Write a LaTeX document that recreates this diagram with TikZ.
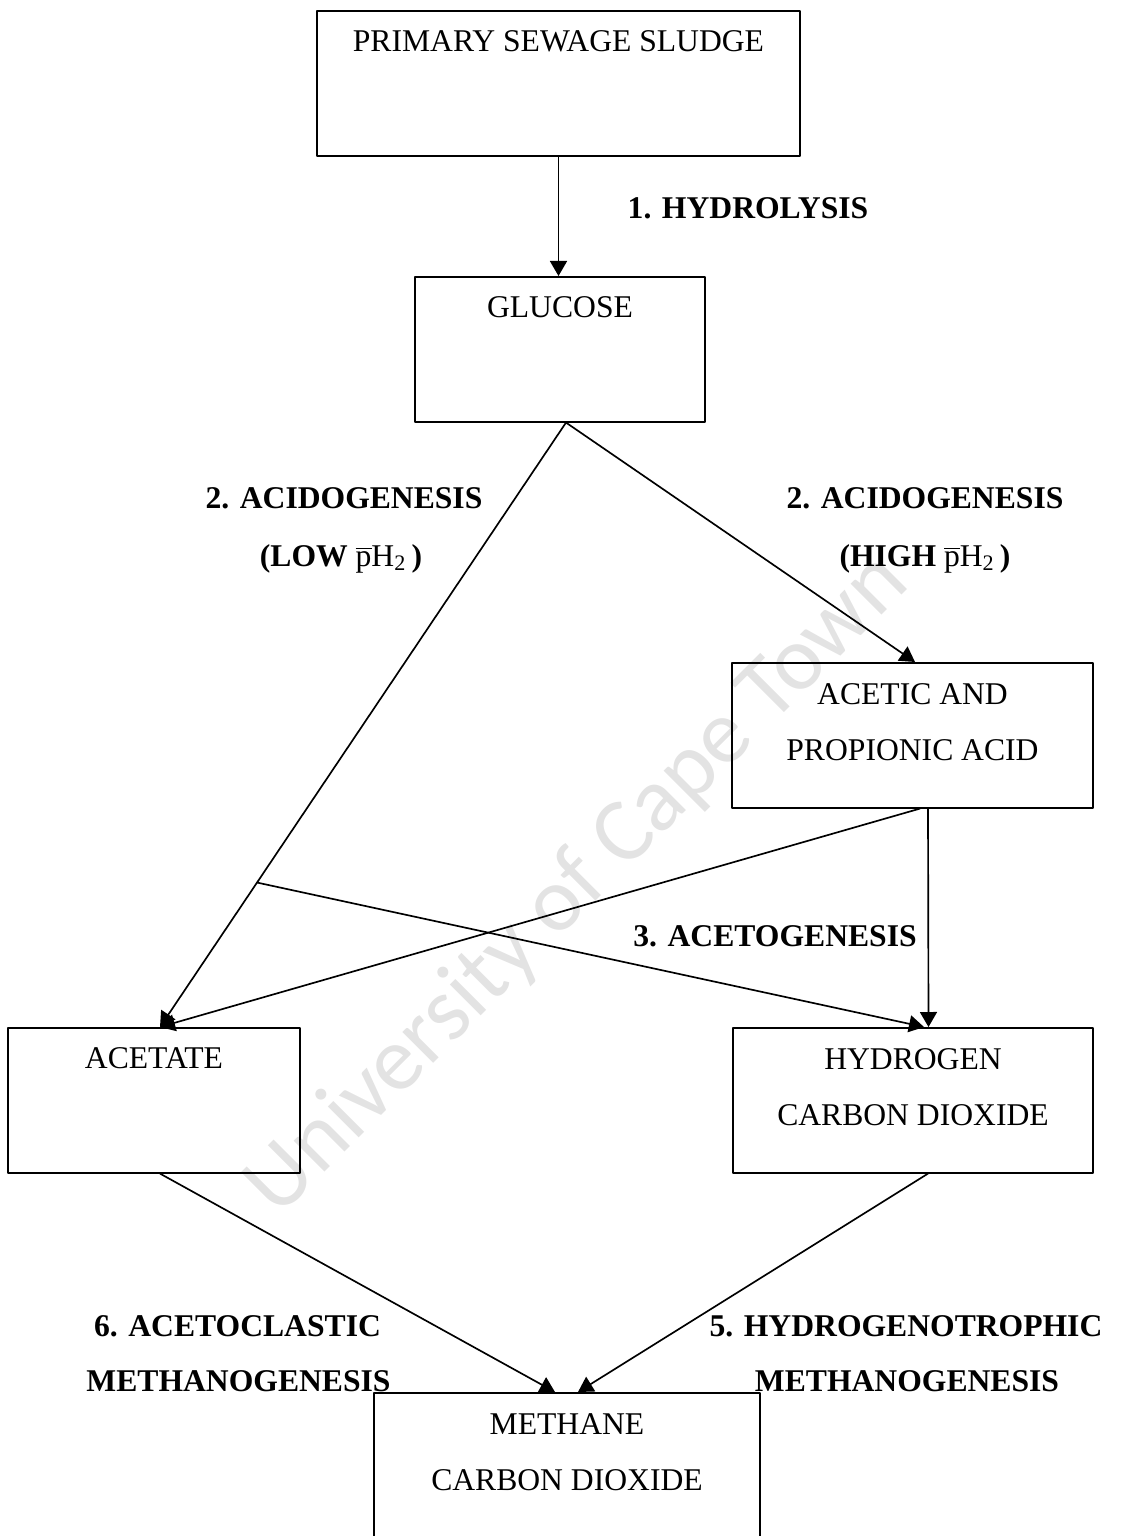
\documentclass[tikz,border=0pt]{standalone}
\usepackage{fontspec}
\setmainfont{Liberation Serif}
\newfontfamily\markfont{Carlito}
\usetikzlibrary{arrows.meta}

% partial pressure of hydrogen, bar over the p
\newcommand{\phbar}{{\mdseries$\overline{\mbox{p}}$H\textsubscript{2}}}

\begin{document}
\begin{tikzpicture}[line cap=round,line join=round,
  box/.style={draw,line width=0.9pt,inner sep=0pt,anchor=north,align=center,
    font=\fontsize{18}{32}\selectfont,text height=0.82cm,text depth=2.08cm,minimum height=2.9cm},
  twoline/.style={text height=1.95cm,text depth=0.95cm},
  stage/.style={anchor=base,font=\fontsize{18}{22}\selectfont\bfseries},
  flow/.style={line width=0.95pt,-{Triangle[length=0.3cm,width=0.34cm]}}]
  \useasboundingbox (0,0) rectangle (22.5,-30.72);
  % watermark across the middle
  \node[rotate=45,text=black!11,font=\markfont\fontsize{52}{60}\selectfont] (mark) at (11.56,-17.7) {University of Cape Town};
  % substrates and products
  \node[box,minimum width=9.66cm] (sludge) at (11.17,-0.2) {PRIMARY SEWAGE SLUDGE};
  \node[box,minimum width=5.8cm] (glu) at (11.2,-5.52) {GLUCOSE};
  \node[box,twoline,minimum width=7.22cm] (acid) at (18.25,-13.24) {ACETIC AND\\PROPIONIC ACID};
  \node[box,minimum width=5.84cm] (acet) at (3.08,-20.54) {ACETATE};
  \node[box,twoline,minimum width=7.2cm] (hyd) at (18.26,-20.54) {HYDROGEN\\CARBON DIOXIDE};
  \node[box,twoline,minimum width=7.72cm] (meth) at (11.34,-27.84) {METHANE\\CARBON DIOXIDE};
  % conversion steps
  \draw[flow] (sludge.south) -- (sludge.south |- glu.north);
  \draw[flow] ([xshift=0.12cm]glu.south) -- coordinate[pos=0.761] (split) ([xshift=0.12cm]acet.north);
  \draw[flow] ([xshift=0.12cm]glu.south) -- ([xshift=0.05cm]acid.north);
  \draw[flow] ([xshift=0.15cm]acid.south) -- ([xshift=0.12cm]acet.north);
  \draw[flow] ([xshift=0.31cm]acid.south) -- ([xshift=0.31cm]hyd.north);
  \draw[flow] (split) -- ([xshift=0.22cm]hyd.north);
  \draw[flow] ([xshift=0.12cm]acet.south) -- ([xshift=-0.24cm]meth.north);
  \draw[flow] ([xshift=0.3cm]hyd.south) -- ([xshift=0.22cm]meth.north);
  % step labels
  \node[stage] (hydrolysis) at (14.96,-4.38) {1. HYDROLYSIS};
  \node[stage] (acidlow) at (6.88,-10.16) {2. ACIDOGENESIS};
  \node[stage] (lowph) at (6.82,-11.32) {(LOW \phbar\,)};
  \node[stage] (acidhigh) at (18.5,-10.16) {2. ACIDOGENESIS};
  \node[stage] (highph) at (18.5,-11.32) {(HIGH \phbar\,)};
  \node[stage] (aceto) at (15.5,-18.92) {3. ACETOGENESIS};
  \node[stage] (clastic) at (4.75,-26.72) {6. ACETOCLASTIC};
  \node[stage] (methl) at (4.77,-27.82) {METHANOGENESIS};
  \node[stage] (hydtroph) at (18.12,-26.72) {5. HYDROGENOTROPHIC};
  \node[stage] (methr) at (18.14,-27.82) {METHANOGENESIS};
\end{tikzpicture}
\end{document}
